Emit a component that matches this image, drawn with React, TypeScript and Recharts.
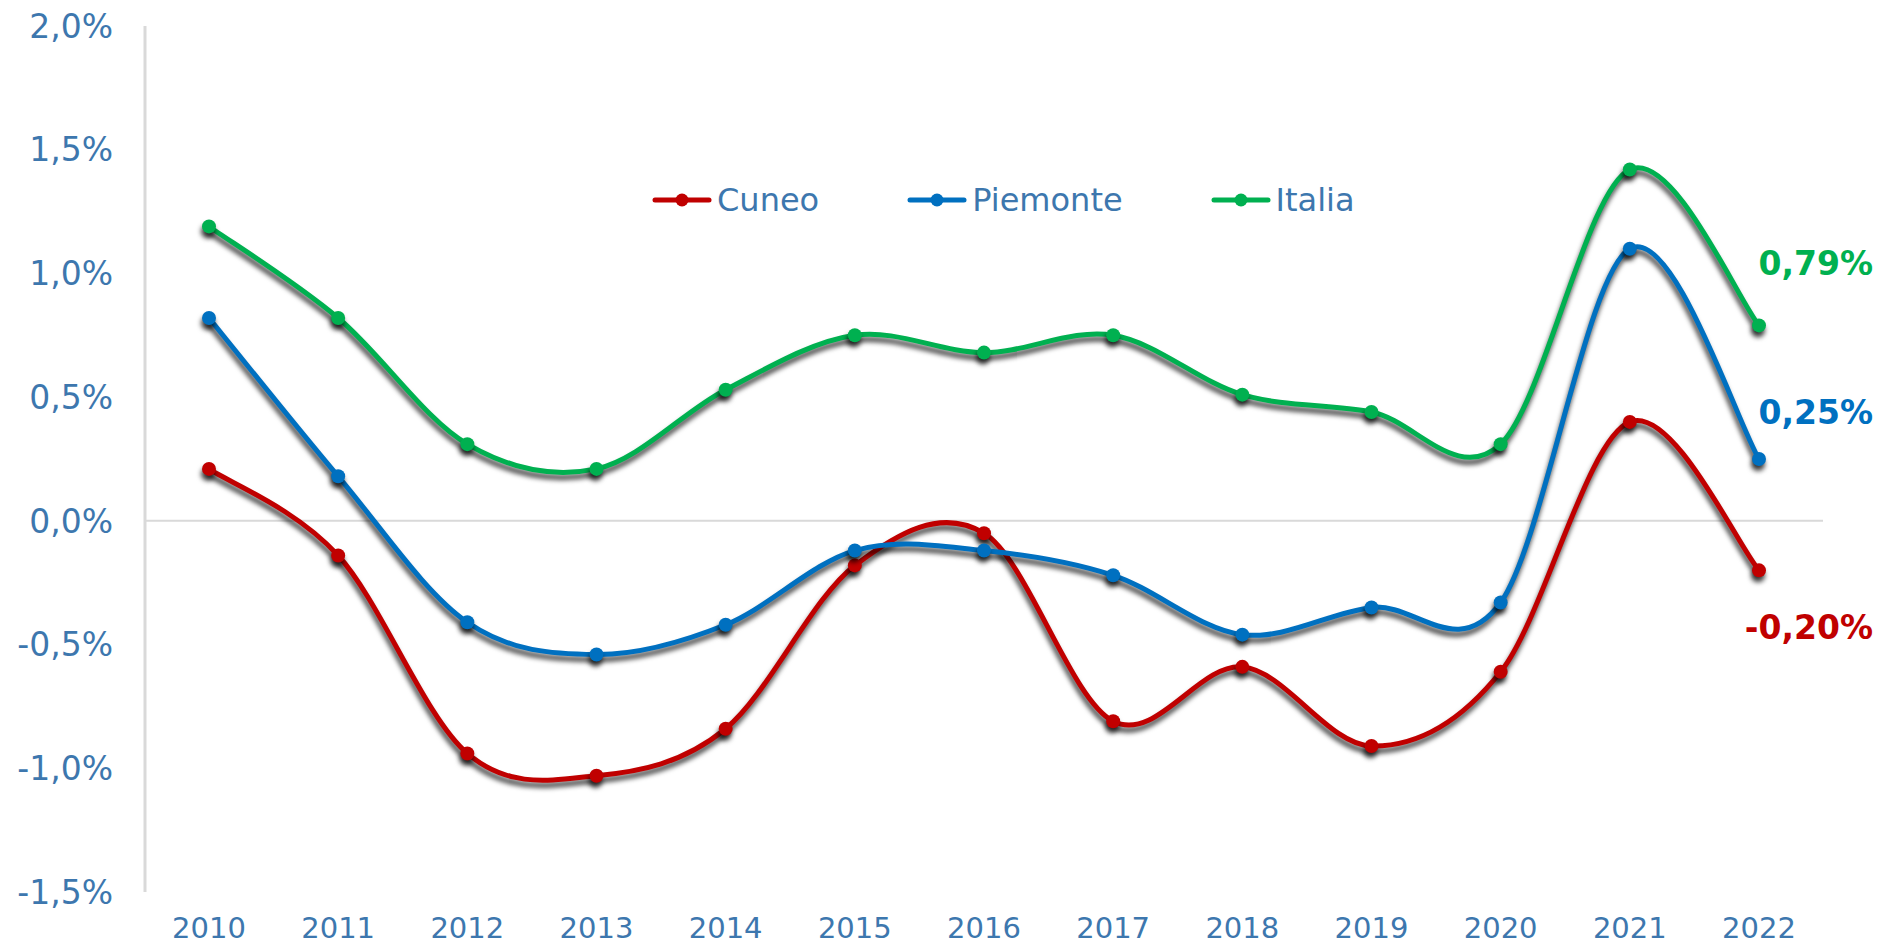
import { LineChart, Line, XAxis, YAxis, ReferenceLine, Legend } from "recharts";

const YEARS = ["2010", "2011", "2012", "2013", "2014", "2015", "2016", "2017", "2018", "2019", "2020", "2021", "2022"];
const CUNEO = [0.21, -0.14, -0.94, -1.03, -0.84, -0.18, -0.05, -0.81, -0.59, -0.91, -0.61, 0.4, -0.2];
const PIEMONTE = [0.82, 0.18, -0.41, -0.54, -0.42, -0.12, -0.12, -0.22, -0.46, -0.35, -0.33, 1.1, 0.25];
const ITALIA = [1.19, 0.82, 0.31, 0.21, 0.53, 0.75, 0.68, 0.75, 0.51, 0.44, 0.31, 1.42, 0.79];
const Y_TICKS = [-1.5, -1, -0.5, 0, 0.5, 1, 1.5, 2];

const FONT = "'DejaVu Sans', Verdana, sans-serif";
const TEXT = "#3D77AE";
const GRID = "#D9D9D9";

const SERIES = [
  { key: "cuneo", name: "Cuneo", color: "#C00000", labelDy: 69 },
  { key: "piemonte", name: "Piemonte", color: "#0070C0", labelDy: -35 },
  { key: "italia", name: "Italia", color: "#00B050", labelDy: -50 },
];

const data = YEARS.map((year, i) => ({
  year,
  cuneo: CUNEO[i],
  piemonte: PIEMONTE[i],
  italia: ITALIA[i],
}));

const pct1 = (v: number) => v.toFixed(1).replace(".", ",") + "%";
const pct2 = (v: number) => v.toFixed(2).replace(".", ",") + "%";

// excel-style smoothed line (catmull-rom through every point)
function excelSmooth(context: any) {
  let pts: number[][] = [];
  return {
    areaStart() {},
    areaEnd() {},
    lineStart() {
      pts = [];
    },
    point(x: number, y: number) {
      pts.push([+x, +y]);
    },
    lineEnd() {
      if (!pts.length) return;
      context.moveTo(pts[0][0], pts[0][1]);
      for (let i = 0; i < pts.length - 1; i++) {
        const p0 = pts[i - 1] || pts[i];
        const p1 = pts[i];
        const p2 = pts[i + 1];
        const p3 = pts[i + 2] || p2;
        context.bezierCurveTo(
          p1[0] + (p2[0] - p0[0]) / 6,
          p1[1] + (p2[1] - p0[1]) / 6,
          p2[0] - (p3[0] - p1[0]) / 6,
          p2[1] - (p3[1] - p1[1]) / 6,
          p2[0],
          p2[1]
        );
      }
    },
  };
}

const endLabel = (color: string, dy: number) => (props: any) => {
  const { x, y, index, value } = props;
  if (index !== YEARS.length - 1) return <g />;
  return (
    <text x={x + 114} y={y + dy} textAnchor="end" fill={color} fontSize={33} fontWeight="bold" fontFamily={FONT}>
      {pct2(value)}
    </text>
  );
};

function LegendContent() {
  return (
    <div style={{ display: "flex", alignItems: "center", gap: 88, height: 37, fontFamily: FONT, fontSize: 32, color: TEXT }}>
      {SERIES.map((s) => (
        <div key={s.key} style={{ display: "flex", alignItems: "center", gap: 5 }}>
          <svg width={60} height={14}>
            <line x1={3} y1={7} x2={57} y2={7} stroke={s.color} strokeWidth={5} strokeLinecap="round" />
            <circle cx={30} cy={7} r={6.5} fill={s.color} />
          </svg>
          <span>{s.name}</span>
        </div>
      ))}
    </div>
  );
}

export default function App() {
  return (
    <div>
      <style>{`
        body { margin: 0; }
        .recharts-line-curve, .recharts-line-dots { filter: drop-shadow(-1px 5px 2.5px rgba(0,0,0,0.75)); }
      `}</style>
      <LineChart width={1881} height={945} data={data} margin={{ top: 26, right: 58, left: 0, bottom: 0 }}>
        <XAxis
          dataKey="year"
          interval={0}
          padding={{ left: 64, right: 64 }}
          axisLine={false}
          tickLine={false}
          tickSize={0}
          tickMargin={25}
          height={53}
          tick={{ fontSize: 29, fill: TEXT, fontFamily: FONT }}
        />
        <YAxis
          domain={[-1.5, 2]}
          ticks={Y_TICKS}
          tickFormatter={pct1}
          width={145}
          tickLine={false}
          tickSize={0}
          tickMargin={32}
          axisLine={{ stroke: GRID, strokeWidth: 3 }}
          tick={{ fontSize: 33, fill: TEXT, fontFamily: FONT }}
        />
        <ReferenceLine y={0} stroke={GRID} strokeWidth={2} />
        <Legend
          layout="horizontal"
          verticalAlign="middle"
          align="center"
          content={<LegendContent />}
          wrapperStyle={{ top: 181, left: 652, width: 900 }}
        />
        {SERIES.map((s) => (
          <Line
            key={s.key}
            dataKey={s.key}
            name={s.name}
            type={excelSmooth as any}
            stroke={s.color}
            strokeWidth={5}
            dot={{ r: 7, fill: s.color, stroke: s.color, strokeWidth: 0 }}
            activeDot={false}
            label={endLabel(s.color, s.labelDy)}
            isAnimationActive={false}
          />
        ))}
      </LineChart>
    </div>
  );
}
